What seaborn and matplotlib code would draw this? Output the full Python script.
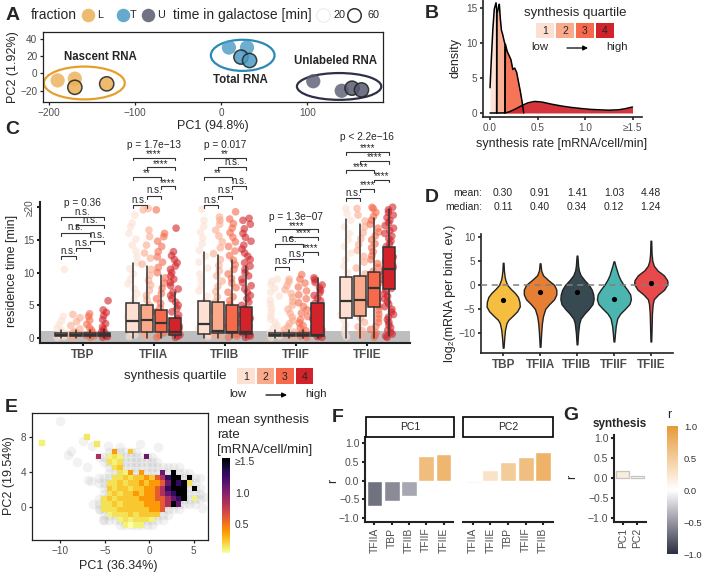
import numpy as np
import pandas as pd
import matplotlib
matplotlib.use("Agg")
import matplotlib.pyplot as plt
import matplotlib.transforms as mtrans
import seaborn as sns
from matplotlib.patches import Ellipse, Rectangle
from matplotlib.colors import LinearSegmentedColormap, Normalize
from matplotlib.cm import ScalarMappable

sns.set_theme(style="ticks")
plt.rcParams["font.family"] = ["Liberation Sans", "DejaVu Sans"]
plt.rcParams["axes.unicode_minus"] = True

W, H = 705, 577
TICK = "#4D4D4D"

# ---------------- data: A ----------------
A_fraction = ["L", "L", "L", "L", "T", "T", "T", "T", "U", "U", "U", "U"]
A_time = [20, 20, 60, 60, 20, 20, 60, 60, 20, 20, 60, 60]
A_pc1 = [-190, -170, -170, -133, 9, 30, 23, 33, 107, 140, 152, 163]
A_pc2 = [-8, -6, -16, -12, 30, 30, 19, 15, -9, -20, -17, -19]
A_ell_cx = [-159, 25, 137]
A_ell_cy = [-11, 21, -15]
A_ell_w = [94, 74, 98]
A_ell_h = [38, 36, 31]
A_groups = ["Nascent RNA", "Total RNA", "Unlabeled RNA"]
A_colors = {"L": "#EBAE55", "T": "#4A9AC4", "U": "#585B70"}
A_ell_colors = ["#E69F2D", "#2A8AB5", "#2D3047"]

# ---------------- data: B ----------------
B_x = [
    [0.0, 0.015, 0.03, 0.045, 0.063, 0.07, 0.07],
    [0.07, 0.072, 0.078, 0.088, 0.098, 0.108, 0.12, 0.133, 0.146, 0.157, 0.157],
    [0.157, 0.162, 0.18, 0.2, 0.22, 0.24, 0.26, 0.28, 0.3, 0.32, 0.34, 0.355],
    [0.0, 0.1, 0.16, 0.2, 0.25, 0.3, 0.35, 0.4, 0.47, 0.55, 0.65, 0.75, 0.85,
     0.95, 1.05, 1.15, 1.25, 1.35, 1.42, 1.5],
]
B_y = [
    [3.6, 8.0, 12.0, 14.8, 15.7, 14.8, 0.0],
    [0.0, 14.6, 14.4, 15.0, 15.5, 13.5, 11.8, 11.2, 10.4, 9.8, 0.0],
    [0.0, 9.8, 8.8, 8.2, 7.6, 6.2, 6.4, 5.8, 4.4, 3.0, 1.4, 0.0],
    [0.0, 0.0, 0.02, 0.15, 0.45, 0.8, 1.15, 1.45, 1.65, 1.55, 1.25, 1.0, 0.8,
     0.65, 0.52, 0.45, 0.4, 0.45, 0.6, 0.85],
]
quartiles = ["1", "2", "3", "4"]
reds = ["#FDE0D2", "#FBA98B", "#F6694B", "#D3232A"]

# ---------------- data: C ----------------
C_tf = ["TBP", "TFIIA", "TFIIB", "TFIIF", "TFIIE"]
C_points = {
    "TBP": [
        [0.1, 0.2, 0.4, 0.5, 0.7, 0.9, 1.1, 1.5, 2.0, 2.6, 3.3, 10.5],
        [0.1, 0.3, 0.5, 0.6, 0.8, 1.0, 1.4, 1.9, 2.5, 3.1, 3.6],
        [0.1, 0.3, 0.4, 0.6, 0.9, 1.2, 1.6, 2.1, 2.7, 3.3, 3.7],
        [0.1, 0.2, 0.4, 0.6, 0.8, 1.0, 1.3, 1.7, 2.2, 2.8, 3.4, 3.9, 4.3, 5.7],
    ],
    "TFIIA": [
        [0.2, 0.5, 0.9, 1.3, 1.8, 2.3, 2.7, 3.2, 3.8, 4.5, 5.2, 6.0, 6.8, 7.5, 8.3,
         9.0, 9.8, 10.6, 11.5, 12.4, 13.3, 14.2, 15.1, 16.0, 17.0, 17.6, 18.8],
        [0.2, 0.6, 1.0, 1.5, 2.0, 2.6, 3.1, 3.7, 4.4, 5.0, 5.8, 6.5, 7.3, 8.1, 8.8,
         9.6, 10.5, 11.3, 12.2, 13.0, 14.2, 15.5, 16.5, 19.6, 19.8],
        [0.1, 0.4, 0.8, 1.2, 1.7, 2.2, 2.8, 3.4, 4.0, 4.6, 5.3, 6.0, 6.8, 7.6, 8.4,
         9.2, 10.0, 10.8, 11.6, 12.4, 13.2, 14.0, 14.8, 15.5, 16.0, 19.6],
        [0.1, 0.3, 0.5, 0.8, 1.1, 1.4, 1.8, 2.2, 2.6, 3.0, 3.5, 4.0, 4.5, 5.0, 5.5,
         6.0, 6.5, 7.0, 7.5, 8.0, 8.5, 9.0, 9.5, 10.0, 10.5, 11.0, 11.5, 12.0, 12.6,
         13.2, 16.8],
    ],
    "TFIIB": [
        [0.2, 0.6, 1.0, 1.5, 2.1, 2.7, 3.4, 4.1, 4.9, 5.6, 6.4, 7.2, 8.0, 8.9, 9.8,
         10.7, 11.6, 12.5, 13.4, 14.4, 15.3, 16.2, 17.1, 18.0, 19.7],
        [0.1, 0.4, 0.8, 1.2, 1.7, 2.2, 2.8, 3.4, 4.1, 4.8, 5.5, 6.3, 7.1, 7.9, 8.7,
         9.5, 10.3, 11.1, 12.0, 12.9, 13.8, 14.7, 15.6, 16.5, 17.4, 18.0, 18.5],
        [0.1, 0.3, 0.6, 1.0, 1.4, 1.8, 2.3, 2.8, 3.3, 3.9, 4.5, 5.1, 5.7, 6.3, 7.0,
         7.7, 8.4, 9.1, 9.8, 10.5, 11.2, 11.9, 12.6, 13.3, 14.0, 14.7, 15.4, 16.1,
         16.8, 17.5, 18.2, 19.3],
        [0.1, 0.3, 0.5, 0.8, 1.1, 1.4, 1.8, 2.2, 2.6, 3.0, 3.5, 4.0, 4.5, 5.0, 5.5,
         6.0, 6.5, 7.0, 7.5, 8.0, 8.5, 9.0, 9.5, 10.0, 10.5, 11.0, 11.5, 12.0, 12.5,
         13.0, 13.6, 14.2, 14.8, 15.4, 16.0, 16.7, 17.4, 18.0, 18.3],
    ],
    "TFIIF": [
        [0.1, 0.3, 0.5, 0.8, 1.1, 1.5, 1.9, 2.4, 2.9, 3.4, 4.0, 4.6, 5.2, 5.8, 6.4,
         7.0, 7.6, 8.2, 8.7, 9.0],
        [0.1, 0.3, 0.6, 0.9, 1.3, 1.7, 2.2, 2.7, 3.2, 3.8, 4.4, 5.0, 5.6, 6.2, 6.8,
         7.4, 8.0, 8.6, 9.0],
        [0.1, 0.3, 0.5, 0.8, 1.1, 1.5, 1.9, 2.3, 2.8, 3.3, 3.8, 4.3, 4.8, 5.4, 6.0,
         6.6, 7.2, 7.8, 8.4, 9.0, 9.7],
        [0.1, 0.2, 0.4, 0.6, 0.8, 1.0, 1.3, 1.6, 1.9, 2.2, 2.5, 2.9, 3.3, 3.7, 4.1,
         4.5, 4.9, 5.3, 5.7, 6.1, 6.5, 6.9, 7.3, 7.7, 8.1, 8.5, 8.9, 9.2],
    ],
    "TFIIE": [
        [0.2, 0.7, 1.3, 2.0, 2.8, 3.6, 4.5, 5.4, 6.3, 7.2, 8.1, 9.0, 10.0, 11.0,
         12.0, 13.0, 14.0, 15.0, 16.0, 17.0, 18.0, 19.0, 19.8],
        [0.2, 0.6, 1.1, 1.7, 2.4, 3.1, 3.9, 4.7, 5.5, 6.3, 7.1, 8.0, 8.9, 9.8, 10.7,
         11.6, 12.5, 13.4, 14.3, 15.2, 16.1, 17.0, 17.9, 18.8, 19.8],
        [0.1, 0.4, 0.8, 1.3, 1.8, 2.4, 3.0, 3.6, 4.2, 4.8, 5.4, 6.0, 6.6, 7.2, 7.8,
         8.4, 9.0, 9.6, 10.2, 10.8, 11.4, 12.0, 12.6, 13.2, 13.8, 14.4, 15.0, 15.6,
         16.2, 16.8, 17.4, 18.0, 18.6, 19.2, 19.8, 20.0],
        [0.1, 0.3, 0.6, 0.9, 1.2, 1.6, 2.0, 2.4, 2.8, 3.2, 3.6, 4.0, 4.4, 4.8, 5.2,
         5.6, 6.0, 6.4, 6.8, 7.2, 7.6, 8.0, 8.4, 8.8, 9.2, 9.6, 10.0, 10.4, 10.8,
         11.2, 11.6, 12.0, 12.4, 12.8, 13.2, 13.6, 14.0, 14.4, 14.8, 15.2, 15.6,
         16.0, 16.4, 16.8, 17.2, 17.6, 18.0, 18.4, 18.8, 19.2, 19.6, 20.0],
    ],
}
C_med = [[0.5, 0.5, 0.5, 0.5], [2.6, 2.7, 2.3, 0.9], [2.1, 1.0, 0.9, 0.9],
         [0.5, 0.5, 0.5, 0.5], [5.6, 5.8, 7.6, 10.5]]
C_q1 = [[0.25, 0.25, 0.25, 0.25], [0.9, 0.9, 0.9, 0.5], [0.6, 0.8, 0.7, 0.6],
        [0.25, 0.25, 0.25, 0.35], [3.0, 3.3, 4.7, 7.5]]
C_q3 = [[0.75, 0.75, 0.75, 0.8], [5.3, 5.0, 4.3, 3.1], [5.6, 5.5, 5.1, 4.8],
        [0.75, 0.75, 0.75, 5.3], [9.4, 9.5, 10.1, 13.9]]
C_lo = [[0.0, 0.0, 0.0, 0.0], [0.0, 0.0, 0.0, 0.0], [0.0, 0.0, 0.0, 0.0],
        [0.0, 0.0, 0.0, 0.0], [0.0, 0.0, 0.0, 0.3]]
C_hi = [[1.3, 1.3, 1.3, 1.4], [11.4, 11.0, 9.7, 7.0], [13.1, 12.7, 11.9, 11.0],
        [1.3, 1.3, 1.3, 9.2], [18.2, 17.5, 18.3, 19.8]]
C_p = ["p = 0.36", "p = 1.7e\u221213", "p = 0.017", "p = 1.3e\u221207", "p < 2.2e\u221216"]
C_pairs = [(1, 4), (2, 4), (1, 3), (3, 4), (2, 3), (1, 2)]
C_sig = [
    ["n.s.", "n.s.", "n.s.", "n.s.", "n.s.", "n.s."],
    ["****", "****", "**", "****", "n.s.", "n.s."],
    ["**", "n.s.", "**", "n.s.", "n.s.", "n.s."],
    ["****", "****", "n.s.", "****", "n.s.", "n.s."],
    ["****", "****", "****", "****", "****", "n.s."],
]

# ---------------- data: D ----------------
D_tf = ["TBP", "TFIIA", "TFIIB", "TFIIF", "TFIIE"]
D_colors = ["#F5BE41", "#E67E33", "#374A52", "#4CB5B0", "#E8494A"]
D_mean_txt = ["0.30", "0.91", "1.41", "1.03", "4.48"]
D_median_txt = ["0.11", "0.40", "0.34", "0.12", "1.24"]
D_dot = [-3.2, -1.4, -1.5, -3.0, 0.3]
D_prof_y = [
    [-13.1, -11, -9.4, -8, -7.3, -6.5, -5.5, -4.5, -3.5, -2.5, -1.7, -0.8, 0, 1, 1.7, 3, 4.6],
    [-12.9, -10, -8, -6.5, -5, -4, -3, -2, -1, 0, 1, 2, 3, 4.5],
    [-12.4, -10, -8, -7, -6, -5, -4, -3, -2, -1, 0, 1, 2, 3, 4, 6.1],
    [-11.8, -10, -8.5, -7, -6, -5, -4, -3, -2, -1, 0, 1, 2, 3, 4, 4.9],
    [-11.8, -9, -6, -4, -3, -2, -1, 0, 0.5, 1, 2, 3, 4, 5, 6.5, 9.2],
]
D_prof_w = [
    [0.01, 0.03, 0.05, 0.09, 0.14, 0.25, 0.38, 0.45, 0.44, 0.4, 0.32, 0.2, 0.11, 0.06, 0.04, 0.02, 0.01],
    [0.01, 0.03, 0.05, 0.08, 0.14, 0.25, 0.38, 0.44, 0.44, 0.38, 0.22, 0.08, 0.03, 0.01],
    [0.01, 0.03, 0.06, 0.1, 0.2, 0.32, 0.42, 0.45, 0.44, 0.4, 0.32, 0.2, 0.1, 0.05, 0.03, 0.01],
    [0.01, 0.03, 0.05, 0.09, 0.17, 0.3, 0.42, 0.46, 0.44, 0.36, 0.26, 0.18, 0.12, 0.08, 0.04, 0.01],
    [0.01, 0.02, 0.03, 0.05, 0.08, 0.2, 0.36, 0.44, 0.45, 0.44, 0.35, 0.18, 0.08, 0.04, 0.02, 0.01],
]

# ---------------- data: E ----------------
# binned mean synthesis rate: '.' empty, 'o' genes but no colour, digit = level
E_rows = [
    "...o4oo3o.............",
    ".6o121oooo7o..........",
    "..o212ooooooo.........",
    "...o23ooooooooooo.....",
    "...oo214o4ooo7o9ooo...",
    ".ooo2232334356899o9oo.",
    ".oo2232334344579892o..",
    "..o323323344568999o9o.",
    "..o232334344567899ooo.",
    ".o2323333444556789o1o.",
    "oo223233334445697ooo..",
    ".o222333333445ooo.....",
    "..o1222323333oo.......",
    "..ooo1212221oo........",
    ".....o1011oo..........",
]
E_levels = [0.04, 0.1, 0.16, 0.24, 0.38, 0.6, 0.85, 1.1, 1.3, 1.55]
E_gx = [-10.0, -8.8, -9.2, -8.1, -7.5, -6.4, -6.6, -4.7, -3.3, -1.0, -5.2, -5.6, 6.1, 5.9, -7.0, -6.9, 1.0]
E_gy = [9.8, 6.4, 5.9, 5.1, 7.5, 6.9, 2.9, 6.9, 6.8, 7.2, -1.5, -0.3, 1.1, -0.2, 4.5, 3.1, 6.8]
E_iso_x = [-12.1, -7.1, -5.9]
E_iso_y = [7.3, 8.0, 7.2]
E_iso_v = [0.1, 0.14, 0.14]

# ---------------- data: F / G ----------------
F_pc1_tf = ["TFIIA", "TBP", "TFIIB", "TFIIF", "TFIIE"]
F_pc1_r = [-0.67, -0.55, -0.42, 0.65, 0.72]
F_pc2_tf = ["TFIIA", "TFIIE", "TBP", "TFIIF", "TFIIB"]
F_pc2_r = [-0.06, 0.28, 0.5, 0.64, 0.75]
G_pc = ["PC1", "PC2"]
G_r = [0.18, 0.04]

rcmap = LinearSegmentedColormap.from_list("rdiv", ["#2B2D42", "#FFFFFF", "#E89A38"])
rnorm = Normalize(-1, 1)

# ================= figure =================
fig = plt.figure(figsize=(W / 100, H / 100), dpi=100)


def ax_px(x0, y0, x1, y1):
    return fig.add_axes([x0 / W, 1 - y1 / H, (x1 - x0) / W, (y1 - y0) / H])


def style(ax, size=7.2, lw=0.9):
    ax.tick_params(labelsize=size, labelcolor=TICK, length=2.5, width=lw,
                   color="#222222", pad=1.5)
    for s in ax.spines.values():
        s.set_linewidth(lw)
        s.set_color("#222222")
    ax.set_xlabel("")
    ax.set_ylabel("")


# ---------- A ----------
axA = ax_px(43, 32, 383, 102)
dfA = pd.DataFrame(dict(fraction=A_fraction, time=A_time, PC1=A_pc1, PC2=A_pc2))
for cx, cy, w, h, c in zip(A_ell_cx, A_ell_cy, A_ell_w, A_ell_h, A_ell_colors):
    axA.add_patch(Ellipse((cx, cy), w, h, fill=False, edgecolor=c, lw=1.6))
sns.scatterplot(data=dfA[dfA.time == 20], x="PC1", y="PC2", hue="fraction",
                palette=A_colors, s=105, alpha=0.8, linewidth=0, legend=False, ax=axA)
sns.scatterplot(data=dfA[dfA.time == 60], x="PC1", y="PC2", hue="fraction",
                palette=A_colors, s=105, alpha=0.85, edgecolor="#222222",
                linewidth=1.1, legend=False, ax=axA)
A_lab_xy = [(-140, 19), (22, -7), (133, 15)]
for (lx, ly), t in zip(A_lab_xy, A_groups):
    axA.text(lx, ly, t, ha="center", va="center", fontsize=8.3, fontweight="bold")
axA.set_xlim(-207, 188)
axA.set_ylim(-33, 48)
axA.set_xticks([-200, -100, 0, 100])
axA.set_yticks([-20, 0, 20, 40])
style(axA)

# ---------- B ----------
axB = ax_px(483, 0, 642, 117)
for xs, ys, c in zip(B_x, B_y, reds):
    axB.fill_between(xs, ys, color=c, alpha=0.92, lw=0)
    axB.plot(xs, ys, color="black", lw=1.1)
axB.set_xlim(-0.074, 1.6)
axB.set_ylim(-0.57, 16.1)
axB.set_xticks([0, 0.5, 1.0, 1.5])
axB.set_xticklabels(["0.0", "0.5", "1.0", "\u22651.5"])
axB.set_yticks([0, 5, 10, 15])
sns.despine(ax=axB)
style(axB, lw=1.2)

# ---------- C ----------
axC = ax_px(40, 202, 410, 343)
axC.axhspan(-0.76, 1.07, color="#BEBEBE", lw=0, zorder=0)
rows = []
for f in C_tf:
    for qi, vals in enumerate(C_points[f]):
        for v in vals:
            rows.append((f, quartiles[qi], v))
dfC = pd.DataFrame(rows, columns=["tf", "quartile", "time"])
np.random.seed(7)
sns.stripplot(data=dfC, x="tf", y="time", hue="quartile", order=C_tf,
              hue_order=quartiles, palette=reds, dodge=True, jitter=0.28, size=5.5,
              alpha=0.6, linewidth=0, legend=False, ax=axC, zorder=2)
offs = [-0.3, -0.1, 0.1, 0.3]
stats, pos, cols = [], [], []
for i in range(5):
    for q in range(4):
        stats.append(dict(med=C_med[i][q], q1=C_q1[i][q], q3=C_q3[i][q],
                          whislo=C_lo[i][q], whishi=C_hi[i][q]))
        pos.append(i + offs[q])
        cols.append(reds[q])
bp = axC.bxp(stats, positions=pos, widths=0.17, patch_artist=True, showfliers=False,
             showcaps=False, manage_ticks=False,
             boxprops=dict(edgecolor="#333333", linewidth=1.1),
             medianprops=dict(color="#333333", linewidth=1.6),
             whiskerprops=dict(color="#333333", linewidth=1.1), zorder=3)
for b, c in zip(bp["boxes"], cols):
    b.set_facecolor(c)
br_base = [12.5, 20.3, 20.3, 10.9, 21.4]
br_step = [1.2, 1.46, 1.46, 1.14, 1.42]
p_y = [20.6, 29.5, 29.5, 18.5, 30.7]
for i in range(5):
    for k, (a, b) in enumerate(C_pairs):
        y = br_base[i] + br_step[i] * (5 - k)
        xa, xb = i + offs[a - 1], i + offs[b - 1]
        axC.plot([xa, xa, xb, xb], [y - 0.45, y, y, y - 0.45], color="#333333",
                 lw=0.8, clip_on=False, zorder=5)
        lab = C_sig[i][k]
        dy = 0.05 if lab == "n.s." else -0.25
        axC.text((xa + xb) / 2, y + dy, lab, ha="center", va="bottom",
                 fontsize=7, clip_on=False)
    axC.text(i, p_y[i], C_p[i], ha="center", va="center", fontsize=7.3)
axC.set_xlim(-0.6, 4.6)
axC.set_ylim(-0.76, 20.8)
axC.set_yticks([0, 5, 10, 15, 20])
axC.set_yticklabels(["0", "5", "10", "15", "\u226520"])
axC.set_xticks(range(5))
axC.set_xticklabels(C_tf)
sns.despine(ax=axC)
style(axC, lw=1.5)
for t in axC.get_xticklabels():
    t.set_fontweight("bold")
    t.set_fontsize(8.5)
axC.get_yticklabels()[-1].set_rotation(90)
axC.get_yticklabels()[-1].set_va("center")

# ---------- D ----------
axD = ax_px(481, 234, 673, 353)
for i in range(5):
    yy = np.array(D_prof_y[i])
    ww = np.array(D_prof_w[i])
    axD.fill_betweenx(yy, i - ww, i + ww, facecolor=D_colors[i], edgecolor="#222222",
                      lw=1.0, zorder=2)
axD.axhline(0, color="#808080", ls=(0, (4, 3)), lw=1.1, zorder=3)
sns.scatterplot(x=list(range(5)), y=D_dot, color="black", s=14, linewidth=0,
                ax=axD, zorder=4)
axD.set_xlim(-0.6, 4.6)
axD.set_ylim(-14.2, 10.6)
axD.set_xticks(range(5))
axD.set_xticklabels(D_tf)
axD.set_yticks([-10, -5, 0, 5, 10])
sns.despine(ax=axD)
style(axD, size=7.2, lw=1.2)
for t in axD.get_xticklabels():
    t.set_fontweight("bold")
    t.set_fontsize(8.5)

# ---------- E ----------
axE = ax_px(32, 413, 208, 540)
E_x0, E_y0, E_cell = -6.6, -2.4, 0.6
nr, nc = len(E_rows), len(E_rows[0])
Z = np.full((nr, nc), np.nan)
gx, gy = list(E_gx), list(E_gy)
for i, row in enumerate(E_rows):
    r = nr - 1 - i
    for j, ch in enumerate(row):
        if ch == ".":
            continue
        gx.append(E_x0 + (j + 0.5) * E_cell)
        gy.append(E_y0 + (r + 0.5) * E_cell)
        if ch != "o":
            Z[r, j] = E_levels[int(ch)]
sns.scatterplot(x=gx, y=gy, color="#A8A8A8", alpha=0.15, s=48, linewidth=0,
                ax=axE, zorder=1)
enorm = Normalize(0.04, 1.55)
xe = E_x0 + np.arange(nc + 1) * E_cell
ye = E_y0 + np.arange(nr + 1) * E_cell
axE.pcolormesh(xe, ye, np.ma.masked_invalid(Z), cmap="inferno_r", norm=enorm,
               zorder=2)
axE.scatter(E_iso_x, E_iso_y, c=E_iso_v, cmap="inferno_r", norm=enorm, marker="s",
            s=14, zorder=2)
axE.set_xlim(-13.2, 6.6)
axE.set_ylim(-3.8, 10.7)
axE.set_xticks([-10, -5, 0, 5])
axE.set_yticks([0, 4, 8])
style(axE)
caxE = ax_px(222, 458, 230, 553)
cbE = fig.colorbar(ScalarMappable(norm=enorm, cmap="inferno_r"), cax=caxE)
cbE.outline.set_visible(False)
cbE.set_ticks([0.5, 1.0, 1.5])
cbE.set_ticklabels(["0.5", "1.0", "\u22651.5"])
caxE.tick_params(labelsize=7.5, length=2, color="white", labelcolor="#333333", pad=1.5)

# ---------- F ----------
axF1 = ax_px(365, 437, 453, 522)
axF2 = ax_px(463, 437, 553, 522)
for ax, tfs, rv in [(axF1, F_pc1_tf, F_pc1_r), (axF2, F_pc2_tf, F_pc2_r)]:
    dfF = pd.DataFrame({"tf": tfs, "r": rv})
    sns.barplot(data=dfF, x="tf", y="r", hue="tf", order=tfs, hue_order=tfs,
                palette=[rcmap(rnorm(v)) for v in rv], width=0.92, saturation=1,
                errorbar=None, legend=False, ax=ax)
    ax.set_xlim(-0.55, 4.55)
    ax.set_ylim(-1.1, 1.16)
    ax.set_yticks([-1, -0.5, 0, 0.5, 1])
    ax.set_yticklabels(["\u22121.0", "\u22120.5", "0.0", "0.5", "1.0"])
    sns.despine(ax=ax)
    style(ax, size=7.5, lw=1.5)
    ax.tick_params(axis="x", labelrotation=90)
axF2.spines["left"].set_visible(False)
axF2.tick_params(axis="y", left=False, labelleft=False)

# ---------- G ----------
axG = ax_px(614, 435, 646, 522)
dfG = pd.DataFrame({"pc": G_pc, "r": G_r})
sns.barplot(data=dfG, x="pc", y="r", hue="pc", order=G_pc, hue_order=G_pc,
            palette=[rcmap(rnorm(v)) for v in G_r], width=0.9, saturation=1,
            errorbar=None, edgecolor="#C4C4C4", linewidth=0.9, legend=False, ax=axG)
axG.set_xlim(-0.6, 1.6)
axG.set_ylim(-1.11, 1.08)
axG.set_yticks([-1, -0.5, 0, 0.5, 1])
axG.set_yticklabels(["\u22121.0", "\u22120.5", "0.0", "0.5", "1.0"])
sns.despine(ax=axG)
style(axG, size=7.5, lw=1.5)
axG.tick_params(axis="x", labelrotation=90)
caxG = ax_px(667, 426, 678, 554)
cbG = fig.colorbar(ScalarMappable(norm=rnorm, cmap=rcmap), cax=caxG)
cbG.outline.set_visible(False)
cbG.set_ticks([-1, -0.5, 0, 0.5, 1])
cbG.set_ticklabels(["\u22121.0", "\u22120.5", "0.0", "0.5", "1.0"])
caxG.tick_params(labelsize=6.8, length=2, color="white", labelcolor="#333333", pad=2.2)

# ================= overlay (legends, titles, panel letters) =================
ov = fig.add_axes([0, 0, 1, 1], zorder=20)
ov.set_xlim(0, W)
ov.set_ylim(H, 0)
ov.axis("off")

for lt, (x, y) in zip("ABCDEFG", [(13, 15), (432, 13), (12, 129), (432, 197),
                                  (11, 407), (338, 417), (571, 415)]):
    ov.text(x, y, lt, fontsize=14, fontweight="bold", ha="center", va="center")

# A legend
ov.text(31, 15, "fraction", fontsize=10, va="center")
for (cx, tx), k in zip([(88, 97), (122.5, 130), (148, 157)], ["L", "T", "U"]):
    ov.scatter([cx], [15], s=95, color=A_colors[k], alpha=0.85, lw=0)
    ov.text(tx, 15.5, k, fontsize=7.8, va="center")
ov.text(173, 15, "time in galactose [min]", fontsize=10, va="center")
ov.scatter([323], [15], s=95, facecolor="white", edgecolor="#E6E6E6", lw=0.6)
ov.text(333, 15.5, "20", fontsize=7.8, va="center")
ov.scatter([354], [15], s=95, facecolor="white", edgecolor="#333333", lw=1.1)
ov.text(368, 15.5, "60", fontsize=7.8, va="center")

# axis titles
ov.text(213, 126, "PC1 (94.8%)", fontsize=9, ha="center", va="center")
ov.text(13, 67, "PC2 (1.92%)", fontsize=9, ha="center", va="center", rotation=90)
ov.text(455, 58, "density", fontsize=9, ha="center", va="center", rotation=90)
ov.text(562, 144, "synthesis rate [mRNA/cell/min]", fontsize=9, ha="center", va="center")
ov.text(12, 271, "residence time [min]", fontsize=9, ha="center", va="center", rotation=90)
ov.text(450, 293, "log\u2082(mRNA per bind. ev.)", fontsize=9, ha="center",
        va="center", rotation=90)
ov.text(118, 566, "PC1 (36.34%)", fontsize=9, ha="center", va="center")
ov.text(9, 476, "PC2 (19.54%)", fontsize=9, ha="center", va="center", rotation=90)
ov.text(333, 481, "r", fontsize=9, ha="center", va="center", rotation=90)
ov.text(572, 477, "r", fontsize=9, ha="center", va="center", rotation=90)


# quartile legends
def quart_legend(x0, y0, bw, bh, step, title_xy, title_ha, low_x, high_x, ly, ax0, ax1):
    ov.text(title_xy[0], title_xy[1], "synthesis quartile", fontsize=9.5,
            ha=title_ha, va="center")
    for k in range(4):
        ov.add_patch(Rectangle((x0 + step * k, y0), bw, bh, facecolor=reds[k], lw=0))
        ov.text(x0 + step * k + bw / 2, y0 + bh / 2 + 0.5, quartiles[k], fontsize=7.5,
                ha="center", va="center")
    ov.text(low_x, ly, "low", fontsize=8.2, ha="center", va="center")
    ov.text(high_x, ly, "high", fontsize=8.2, ha="center", va="center")
    ov.annotate("", xy=(ax1, ly + 1), xytext=(ax0, ly + 1),
                arrowprops=dict(arrowstyle="-|>", color="black", lw=0.9,
                                mutation_scale=7, shrinkA=0, shrinkB=0))


quart_legend(536, 22.7, 18, 15.6, 20, (575, 13), "center", 540, 617, 47, 567, 588)
quart_legend(237, 368, 17.5, 16, 19.5, (226, 376), "right", 238, 316, 394, 266, 287)

# D summary text
trD = mtrans.blended_transform_factory(axD.transData, ov.transData)
ov.text(482, 193, "mean:", fontsize=7.5, ha="right", va="center")
ov.text(482, 207, "median:", fontsize=7.5, ha="right", va="center")
for i in range(5):
    ov.text(i, 193, D_mean_txt[i], fontsize=7.5, ha="center", va="center", transform=trD)
    ov.text(i, 207, D_median_txt[i], fontsize=7.5, ha="center", va="center", transform=trD)

# E colourbar title
for t, yb in zip(["mean synthesis", "rate", "[mRNA/cell/min]"], [423, 438, 453]):
    ov.text(217, yb, t, fontsize=9.5, ha="left", va="baseline")

# F strips
for (x0, x1), t in zip([(366, 454), (463, 553)], ["PC1", "PC2"]):
    ov.add_patch(Rectangle((x0, 417), x1 - x0, 20, facecolor="white",
                           edgecolor="black", lw=1.2))
    ov.text((x0 + x1) / 2, 427, t, fontsize=7.5, ha="center", va="center")

# G titles
ov.text(620, 424, "synthesis", fontsize=8.5, fontweight="bold", ha="center", va="center")
ov.text(669, 415, "r", fontsize=9, ha="center", va="center")

fig.savefig("out.png", dpi=100)
